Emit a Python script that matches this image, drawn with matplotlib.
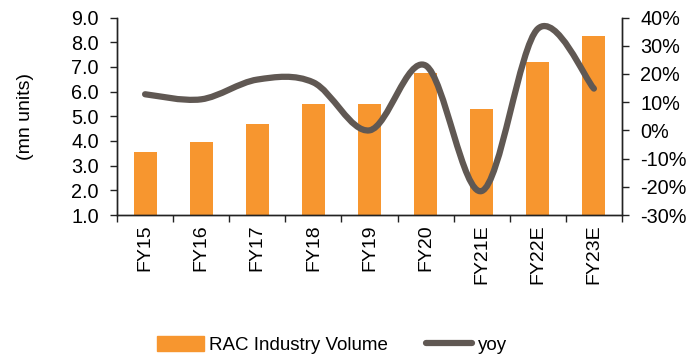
import numpy as np
import matplotlib
matplotlib.use("Agg")
import matplotlib.pyplot as plt
from matplotlib.path import Path
from matplotlib.patches import PathPatch
from matplotlib.lines import Line2D
from matplotlib.ticker import FuncFormatter

plt.rcParams['font.family'] = ['Liberation Sans', 'DejaVu Sans']

categories = ["FY15", "FY16", "FY17", "FY18", "FY19", "FY20", "FY21E", "FY22E", "FY23E"]
volume = [3.55, 3.95, 4.7, 5.5, 5.5, 6.75, 5.3, 7.2, 8.25]
yoy = [0.128, 0.11, 0.18, 0.17, 0.0, 0.23, -0.215, 0.36, 0.148]

bar_color = "#F7962F"
line_color = "#605853"

fig = plt.figure(figsize=(6.9, 3.61), dpi=100)
ax = fig.add_axes([0.1696, 0.4044, 0.9014 - 0.1696, 0.9515 - 0.4044])
ax2 = ax.twinx()

x = np.arange(len(categories))
ax.bar(x, volume, width=0.41, color=bar_color, zorder=2)
ax.set_xlim(-0.5, len(categories) - 0.5)
ax.set_ylim(1.0, 9.0)
ax.set_yticks(np.arange(1.0, 9.01, 1.0))
ax.yaxis.set_major_formatter(FuncFormatter(lambda v, p: f"{v:.1f}"))

# smoothed yoy line (cubic Bezier segments, Excel-style smoothing)
pts = np.column_stack([x, yoy])
verts = [tuple(pts[0])]
codes = [Path.MOVETO]
n = len(pts)
for i in range(n - 1):
    p0 = pts[i - 1] if i > 0 else pts[i]
    p1 = pts[i]
    p2 = pts[i + 1]
    p3 = pts[i + 2] if i + 2 < n else pts[i + 1]
    c1 = p1 + (p2 - p0) / 6.0
    c2 = p2 - (p3 - p1) / 6.0
    verts += [tuple(c1), tuple(c2), tuple(p2)]
    codes += [Path.CURVE4] * 3
ax2.add_patch(PathPatch(Path(verts, codes), facecolor="none", edgecolor=line_color,
                        lw=4.5, capstyle="round", joinstyle="round", zorder=3))
ax2.set_ylim(-0.30, 0.40)
ax2.set_yticks(np.arange(-0.30, 0.401, 0.10))
ax2.yaxis.set_major_formatter(FuncFormatter(lambda v, p: f"{round(v * 100):.0f}%"))

# x ticks at category boundaries, labels at centers
ax.set_xticks(np.arange(-0.5, len(categories), 1.0))
ax.set_xticklabels([])
ax.set_xticks(x, minor=True)
ax.set_xticklabels(categories, minor=True, rotation=90, fontsize=14)
ax.tick_params(axis="x", which="minor", length=0, pad=7)
ax.tick_params(axis="x", which="major", length=5, width=1, direction="out", color="#222222")
ax.tick_params(axis="y", labelsize=14.3, length=5, width=1, color="#222222", pad=8)
ax2.tick_params(axis="y", labelsize=14.3, length=5, width=1, color="#222222", pad=8)

for a in (ax, ax2):
    a.spines["top"].set_visible(False)
    for s in ("left", "right", "bottom"):
        a.spines[s].set_color("#222222")
        a.spines[s].set_linewidth(1.0)

ax.set_ylabel("(mn units)", fontsize=14)
ax.yaxis.set_label_coords(-0.165, 0.5)

handles = [plt.Rectangle((0, 0), 1, 1, color=bar_color),
           Line2D([0], [0], color=line_color, lw=4.5, solid_capstyle="round")]
fig.legend(handles, ["RAC Industry Volume", "yoy"], loc="center", bbox_to_anchor=(0.481, 0.045),
           ncol=2, frameon=False, fontsize=13.5, handlelength=2.5, handleheight=0.9,
           columnspacing=2.0, handletextpad=0.3)

fig.savefig("out.png", dpi=100)
